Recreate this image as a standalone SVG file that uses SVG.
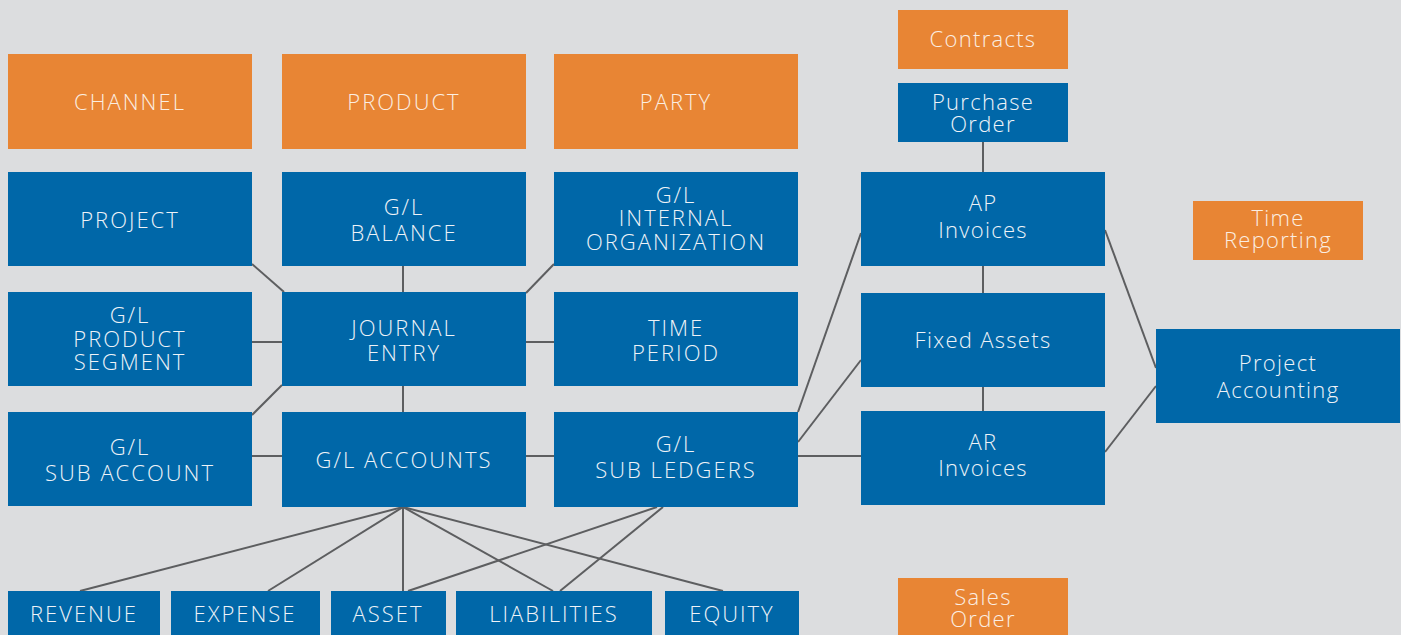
<svg xmlns="http://www.w3.org/2000/svg" width="1401" height="635" viewBox="0 0 1401 635">
<style>
.o{fill:#e88534}
.b{fill:#0067a8}
text{font-family:"Open Sans","Liberation Sans",sans-serif;font-size:22px;font-weight:300;fill:#eef3f8;text-anchor:middle;letter-spacing:2px}
.m text{letter-spacing:1.3px}
.t text{fill:#fbeee2}
#connectors line{stroke:#5d5e60;stroke-width:2;fill:none}
</style>
<rect width="1401" height="635" fill="#dcdddf"/>
<g id="connectors">
<line x1="252" y1="264" x2="284" y2="292"/>
<line x1="403" y1="266" x2="403" y2="292"/>
<line x1="554" y1="264" x2="526" y2="293"/>
<line x1="252" y1="342" x2="282" y2="342"/>
<line x1="252" y1="415" x2="282" y2="385"/>
<line x1="403" y1="386" x2="403" y2="412"/>
<line x1="526" y1="342" x2="554" y2="342"/>
<line x1="252" y1="456" x2="282" y2="456"/>
<line x1="526" y1="456" x2="554" y2="456"/>
<line x1="798" y1="456" x2="861" y2="456"/>
<line x1="798" y1="412" x2="861" y2="233"/>
<line x1="798" y1="442" x2="861" y2="360"/>
<line x1="983" y1="142" x2="983" y2="172"/>
<line x1="983" y1="266" x2="983" y2="293"/>
<line x1="983" y1="387" x2="983" y2="411"/>
<line x1="1105" y1="230" x2="1156" y2="368"/>
<line x1="1105" y1="452" x2="1156" y2="386"/>
<line x1="403" y1="507" x2="80" y2="591"/>
<line x1="403" y1="507" x2="268" y2="591"/>
<line x1="403" y1="507" x2="403" y2="591"/>
<line x1="403" y1="507" x2="553" y2="591"/>
<line x1="403" y1="507" x2="723" y2="591"/>
<line x1="657" y1="507" x2="408" y2="591"/>
<line x1="663" y1="507" x2="560" y2="591"/>
</g>
<g id="channel" class="t"><rect class="o" x="8" y="54" width="244" height="95"/><text x="130" y="110">CHANNEL</text></g>
<g id="product" class="t"><rect class="o" x="282" y="54" width="244" height="95"/><text x="404" y="110">PRODUCT</text></g>
<g id="party" class="t"><rect class="o" x="554" y="54" width="244" height="95"/><text x="676" y="110">PARTY</text></g>
<g id="project"><rect class="b" x="8" y="172" width="244" height="94"/><text x="130" y="228">PROJECT</text></g>
<g id="gl-balance"><rect class="b" x="282" y="172" width="244" height="94"/><text x="404" y="215">G/L<tspan x="404" y="241">BALANCE</tspan></text></g>
<g id="gl-internal-org"><rect class="b" x="554" y="172" width="244" height="94"/><text x="676" y="203">G/L<tspan x="676" y="226">INTERNAL</tspan><tspan x="676" y="250">ORGANIZATION</tspan></text></g>
<g id="gl-product-segment"><rect class="b" x="8" y="292" width="244" height="94"/><text x="130" y="323">G/L<tspan x="130" y="347">PRODUCT</tspan><tspan x="130" y="370">SEGMENT</tspan></text></g>
<g id="journal-entry"><rect class="b" x="282" y="292" width="244" height="94"/><text x="404" y="336">JOURNAL<tspan x="404" y="361">ENTRY</tspan></text></g>
<g id="time-period"><rect class="b" x="554" y="292" width="244" height="94"/><text x="676" y="336">TIME<tspan x="676" y="361">PERIOD</tspan></text></g>
<g id="gl-sub-account"><rect class="b" x="8" y="412" width="244" height="94"/><text x="130" y="455">G/L<tspan x="130" y="481">SUB ACCOUNT</tspan></text></g>
<g id="gl-accounts"><rect class="b" x="282" y="412" width="244" height="95"/><text x="404" y="468">G/L ACCOUNTS</text></g>
<g id="gl-sub-ledgers"><rect class="b" x="554" y="412" width="244" height="95"/><text x="676" y="452">G/L<tspan x="676" y="478">SUB LEDGERS</tspan></text></g>
<g id="revenue"><rect class="b" x="8" y="591" width="152" height="44"/><text x="84" y="622">REVENUE</text></g>
<g id="expense"><rect class="b" x="171" y="591" width="149" height="44"/><text x="245" y="622">EXPENSE</text></g>
<g id="asset"><rect class="b" x="331" y="591" width="115" height="44"/><text x="388" y="622">ASSET</text></g>
<g id="liabilities"><rect class="b" x="456" y="591" width="196" height="44"/><text x="554" y="622">LIABILITIES</text></g>
<g id="equity"><rect class="b" x="665" y="591" width="134" height="44"/><text x="732" y="622">EQUITY</text></g>
<g id="contracts" class="t m"><rect class="o" x="898" y="10" width="170" height="59"/><text x="983" y="47">Contracts</text></g>
<g id="purchase-order" class="m"><rect class="b" x="898" y="83" width="170" height="59"/><text x="983" y="110">Purchase<tspan x="983" y="132">Order</tspan></text></g>
<g id="ap-invoices" class="m"><rect class="b" x="861" y="172" width="244" height="94"/><text x="983" y="211">AP<tspan x="983" y="238">Invoices</tspan></text></g>
<g id="fixed-assets" class="m"><rect class="b" x="861" y="293" width="244" height="94"/><text x="983" y="348">Fixed Assets</text></g>
<g id="ar-invoices" class="m"><rect class="b" x="861" y="411" width="244" height="94"/><text x="983" y="450">AR<tspan x="983" y="476">Invoices</tspan></text></g>
<g id="time-reporting" class="t m"><rect class="o" x="1193" y="201" width="170" height="59"/><text x="1278" y="226">Time<tspan x="1278" y="248">Reporting</tspan></text></g>
<g id="project-accounting" class="m"><rect class="b" x="1156" y="329" width="244" height="94"/><text x="1278" y="371">Project<tspan x="1278" y="398">Accounting</tspan></text></g>
<g id="sales-order" class="t m"><rect class="o" x="898" y="578" width="170" height="57"/><text x="983" y="605">Sales<tspan x="983" y="627">Order</tspan></text></g>
</svg>
